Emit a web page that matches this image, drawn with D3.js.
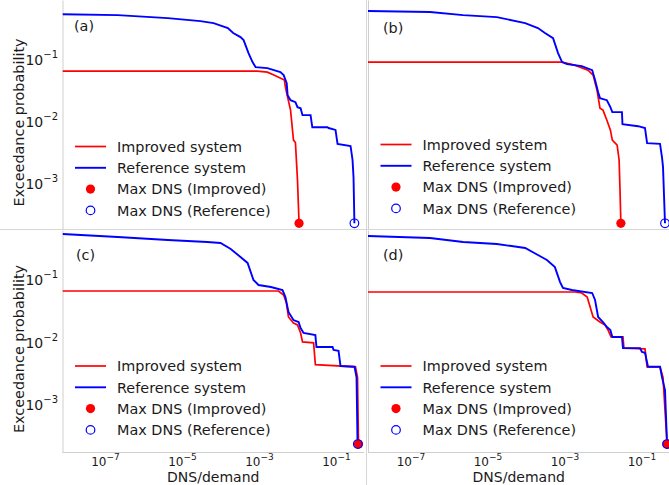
<!DOCTYPE html>
<html>
<head>
<meta charset="utf-8">
<script src="https://cdn.jsdelivr.net/npm/d3@7"></script>
<style>
  body { margin: 0; background: #fff; }
  svg text { font-family: "DejaVu Sans", sans-serif; fill: #1a1a1a; }
</style>
</head>
<body>
<svg id="vizDns"></svg>
<script>
var svgW = 669,
    svgH = 485;

// exceedance curves: [DNS/demand, exceedance probability]
var improvedA = [[8.1e-9,0.0594],[9.4e-4,0.0594],[1.7e-3,0.0573],[2.5e-3,0.0513],[4.7e-3,0.0426],[5.0e-3,0.0328],[5.7e-3,0.0226],[6.8e-3,0.014],[8.1e-3,0.0046],[9.1e-3,0.0042],[1.03e-2,1.04e-3],[1.13e-2,2.1e-4]];
var referenceA = [[8.1e-9,0.49],[2.2e-7,0.475],[4.4e-6,0.425],[3.1e-5,0.38],[6.8e-5,0.353],[1.6e-4,0.294],[2.2e-4,0.244],[3.4e-4,0.21],[4.1e-4,0.188],[5.5e-4,0.116],[7.0e-4,0.083],[8.4e-4,0.069],[1.7e-3,0.0665],[3.7e-3,0.0573],[4.5e-3,0.0513],[5.4e-3,0.0381],[5.7e-3,0.0244],[6.8e-3,0.0202],[9.1e-3,0.0188],[1.03e-2,0.0156],[1.24e-2,0.015],[1.39e-2,0.0116],[2.25e-2,0.0116],[2.5e-2,0.0074],[6.2e-2,0.0074],[6.6e-2,0.0072],[0.10,0.0067],[0.113,0.004],[0.246,0.0037],[0.277,0.0022],[0.294,0.00116],[0.31,2.1e-4]];

var improvedB = [[8.1e-9,0.083],[8.9e-4,0.083],[1.9e-3,0.0743],[4.2e-3,0.0617],[5.7e-3,0.0513],[7.2e-3,0.0294],[8.6e-3,0.015],[1.03e-2,0.014],[1.3e-2,0.0096],[1.6e-2,0.0067],[1.8e-2,0.0046],[2.4e-2,0.0038],[2.7e-2,0.0022],[2.85e-2,7.2e-4],[3.0e-2,2.1e-4]];
var referenceB = [[8.1e-9,0.552],[3.3e-7,0.532],[2.4e-6,0.475],[1.8e-5,0.441],[9.8e-5,0.353],[2.1e-4,0.294],[3.2e-4,0.244],[5.2e-4,0.202],[7.0e-4,0.116],[8.9e-4,0.083],[1.2e-3,0.077],[2.9e-3,0.0716],[5.4e-3,0.0617],[6.4e-3,0.0426],[7.7e-3,0.0272],[8.6e-3,0.0218],[1.3e-2,0.0202],[1.6e-2,0.0156],[1.8e-2,0.013],[3.2e-2,0.013],[3.3e-2,0.0083],[8.4e-2,0.0077],[0.127,0.0072],[0.144,0.0041],[0.312,0.004],[0.352,0.0024],[0.373,0.0017],[0.42,2.1e-4]];

var improvedC = [[8.1e-9,0.0617],[3.3e-3,0.0617],[4.5e-3,0.0532],[5.3e-3,0.0395],[6.0e-3,0.0235],[8.1e-3,0.0188],[1.03e-2,0.0175],[1.24e-2,0.013],[1.39e-2,0.0093],[2.7e-2,0.009],[3.0e-2,0.004],[0.33,0.0037],[0.373,0.0025],[0.396,2.1e-4]];
var referenceC = [[8.1e-9,0.513],[2.2e-7,0.458],[4.4e-6,0.41],[4.7e-5,0.381],[1.03e-4,0.367],[1.9e-4,0.294],[3.4e-4,0.218],[5.2e-4,0.175],[7.4e-4,0.093],[1.0e-3,0.077],[2.1e-3,0.0716],[4.2e-3,0.064],[5.0e-3,0.0494],[6.0e-3,0.0283],[8.1e-3,0.021],[1.1e-2,0.0195],[1.24e-2,0.0156],[1.48e-2,0.013],[3.0e-2,0.012],[3.2e-2,0.0077],[8.4e-2,0.0077],[8.9e-2,0.0069],[0.12,0.0067],[0.135,0.0038],[0.312,0.0037],[0.352,0.0025],[0.373,2.2e-4]];

var improvedD = [[8.1e-9,0.0594],[1.9e-3,0.0594],[2.9e-3,0.0573],[4.0e-3,0.0494],[5.7e-3,0.0235],[8.6e-3,0.0195],[1.16e-2,0.0175],[1.39e-2,0.0145],[1.67e-2,0.0112],[3.4e-2,0.0112],[3.6e-2,0.0074],[0.127,0.0072],[0.144,0.0037],[0.312,0.0037],[0.373,0.0025],[0.474,2.2e-4]];
var referenceD = [[8.1e-9,0.475],[3.3e-7,0.441],[2.4e-6,0.381],[1.8e-5,0.353],[9.8e-5,0.305],[2.1e-4,0.235],[3.6e-4,0.195],[5.8e-4,0.15],[7.9e-4,0.086],[9.4e-4,0.069],[1.6e-3,0.064],[5.4e-3,0.0573],[6.4e-3,0.0442],[7.7e-3,0.0235],[1.03e-2,0.0195],[1.3e-2,0.0162],[1.6e-2,0.0145],[1.8e-2,0.0112],[3.2e-2,0.0112],[3.4e-2,0.0074],[9.4e-2,0.0074],[0.106,0.0064],[0.127,0.0062],[0.152,0.0037],[0.312,0.0037],[0.352,0.0025],[0.42,0.00156],[0.474,2.2e-4]];

// max DNS markers (x value), all drawn at the smallest probability
var maxImproved = [1.13e-2, 3.0e-2, 0.396, 0.474];
var maxReference = [0.31, 0.42, 0.38, 0.474];
var markerProb = 2.1e-4;

var panelLabels = ["(a)", "(b)", "(c)", "(d)"];
var legendLabels = ["Improved system", "Reference system", "Max DNS (Improved)", "Max DNS (Reference)"];
var yTicks = [1e-3, 1e-2, 1e-1];
var xTicks = [1e-7, 1e-5, 1e-3, 1e-1];
var yTickExp = ["−3", "−2", "−1"];
var xTickExp = ["−7", "−5", "−3", "−1"];

// layout of the four panels (pixels)
var panels = [
  {id: "a", improved: improvedA, reference: referenceA, left: 62.5, right: 364, top: 0, bottom: 229, yDom: [-3.77, -0.08], labelX: 74, labelY: 31, legY: 146.5, yAxis: true, xAxis: false},
  {id: "b", improved: improvedB, reference: referenceB, left: 368, right: 669.5, top: 0, bottom: 229, yDom: [-3.77, -0.08], labelX: 383, labelY: 33, legY: 144.5, yAxis: false, xAxis: false},
  {id: "c", improved: improvedC, reference: referenceC, left: 62.5, right: 364, top: 230, bottom: 452, yDom: [-3.806, -0.226], labelX: 76, labelY: 260, legY: 366, yAxis: true, xAxis: true},
  {id: "d", improved: improvedD, reference: referenceD, left: 368, right: 669.5, top: 230, bottom: 452, yDom: [-3.806, -0.226], labelX: 383, labelY: 260, legY: 366, yAxis: false, xAxis: true}
];
var xDom = [8.1e-9, 0.55];
var rowGap = 21.3;

var svg = d3.select("#vizDns").attr("width", svgW).attr("height", svgH);

// light frame lines between the cropped panels
svg.append("line").attr("x1", 0).attr("x2", svgW).attr("y1", 229.5).attr("y2", 229.5)
  .attr("stroke", "#d6d6d6").attr("stroke-width", 1);
svg.append("line").attr("x1", 366.5).attr("x2", 366.5).attr("y1", 0).attr("y2", svgH)
  .attr("stroke", "#d6d6d6").attr("stroke-width", 1);

panels.forEach(function(p, i) {
  drawPanel(p, i);
});

function drawPanel(p, i) {
  var x = d3.scaleLog().domain(xDom).range([p.left, p.right]);
  var y = d3.scaleLog().domain([Math.pow(10, p.yDom[0]), Math.pow(10, p.yDom[1])]).range([p.bottom, p.top]);

  var g = svg.append("g").attr("class", "panel-" + p.id);

  g.append("clipPath").attr("id", "clip-" + p.id)
    .append("rect")
      .attr("x", p.left).attr("y", p.top)
      .attr("width", p.right - p.left).attr("height", p.bottom - p.top);

  // left spine
  var yAxis = d3.axisLeft(y).tickValues(yTicks).tickSize(0).tickFormat("");
  var ya = g.append("g").attr("transform", "translate(" + p.left + ",0)").call(yAxis);
  ya.select(".domain").attr("stroke", "#cfcfcf");

  if (p.yAxis) {
    g.selectAll(".ytick").data(yTicks).enter()
      .append("text")
        .attr("class", "ytick")
        .attr("x", p.left - 4.5)
        .attr("y", function(d) { return y(d) + 7.5; })
        .attr("text-anchor", "end")
        .style("font-size", "14px")
        .each(function(d, k) {
          var t = d3.select(this);
          t.append("tspan").text("10");
          t.append("tspan").attr("dy", -7).style("font-size", "10px").text(yTickExp[k]);
        });

    g.append("text")
      .attr("transform", "translate(23.5," + ((p.top + p.bottom) / 2 + 8) + ") rotate(-90)")
      .attr("text-anchor", "middle")
      .style("font-size", "14.4px")
      .text("Exceedance probability");
  }

  if (p.xAxis) {
    g.append("line")
      .attr("x1", p.left).attr("x2", p.right)
      .attr("y1", p.bottom + 0.5).attr("y2", p.bottom + 0.5)
      .attr("stroke", "#cfcfcf");

    g.selectAll(".xtick").data(xTicks).enter()
      .append("text")
        .attr("class", "xtick")
        .attr("x", function(d) { return x(d) + 1; })
        .attr("y", p.bottom + 13.5)
        .attr("text-anchor", "middle")
        .style("font-size", "12px")
        .each(function(d, k) {
          var t = d3.select(this);
          t.append("tspan").text("10");
          t.append("tspan").attr("dy", -5.5).style("font-size", "9px").text(xTickExp[k]);
        });

    g.append("text")
      .attr("x", (p.left + p.right) / 2)
      .attr("y", 481.5)
      .attr("text-anchor", "middle")
      .style("font-size", "14px")
      .text("DNS/demand");
  }

  // here we draw the curves and the max DNS markers
  var line = d3.line()
    .x(function(d) { return x(d[0]); })
    .y(function(d) { return y(d[1]); });

  var plot = g.append("g").attr("clip-path", "url(#clip-" + p.id + ")");

  plot.append("path").datum(p.improved)
    .attr("d", line).attr("fill", "none")
    .attr("stroke", "#ff0000").attr("stroke-width", 1.7);
  plot.append("path").datum(p.reference)
    .attr("d", line).attr("fill", "none")
    .attr("stroke", "#0000ff").attr("stroke-width", 1.9);

  plot.append("circle")
    .attr("cx", x(maxImproved[i])).attr("cy", y(markerProb)).attr("r", 4.6)
    .attr("fill", "#ff0000");
  plot.append("circle")
    .attr("cx", x(maxReference[i])).attr("cy", y(markerProb)).attr("r", 4.3)
    .attr("fill", "none").attr("stroke", "#0000ff").attr("stroke-width", 1.2);

  g.append("text")
    .attr("x", p.labelX).attr("y", p.labelY)
    .style("font-size", "14.4px")
    .text(panelLabels[i]);

  // legend
  var lg = g.append("g").attr("transform", "translate(" + p.left + "," + p.legY + ")");
  var legColors = ["#ff0000", "#0000ff"];
  legendLabels.forEach(function(lab, k) {
    var ry = k * rowGap;
    if (k < 2) {
      lg.append("line")
        .attr("x1", 12.5).attr("x2", 43.5).attr("y1", ry).attr("y2", ry)
        .attr("stroke", legColors[k]).attr("stroke-width", k == 0 ? 1.7 : 1.9);
    } else if (k == 2) {
      lg.append("circle").attr("cx", 28).attr("cy", ry).attr("r", 4.6).attr("fill", "#ff0000");
    } else {
      lg.append("circle").attr("cx", 28).attr("cy", ry).attr("r", 4.3)
        .attr("fill", "none").attr("stroke", "#0000ff").attr("stroke-width", 1.2);
    }
    lg.append("text")
      .attr("x", 54.5).attr("y", ry + 5.2)
      .style("font-size", "14.4px")
      .text(lab);
  });
}
</script>
</body>
</html>
